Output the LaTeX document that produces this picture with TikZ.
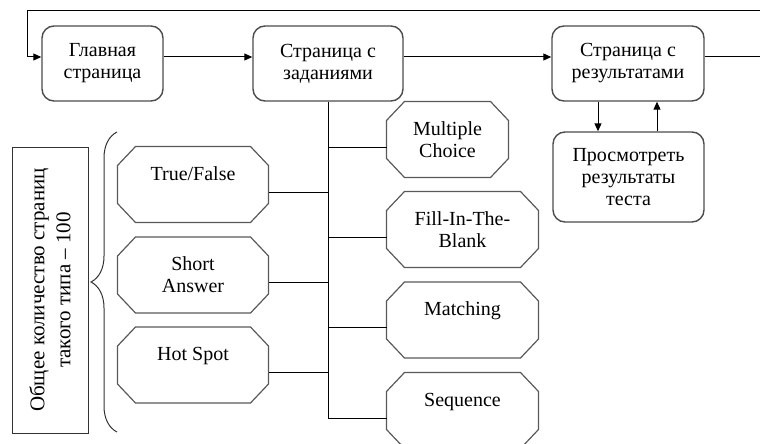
\documentclass[tikz,border=0pt]{standalone}
\usepackage{fontspec}
\setmainfont{Liberation Serif}
\newfontfamily\timesfont{Liberation Serif}
\usetikzlibrary{arrows.meta,decorations.pathreplacing}
\def\boxfont{\timesfont\fontsize{20}{22}\selectfont}

\begin{document}
\begin{tikzpicture}[x=1pt,y=-1pt,>={Triangle[length=8pt,width=7pt]},line width=1pt]
	\tikzstyle{page}=[draw=black!70,line width=1.4pt,rounded corners=12pt,align=center,font=\boxfont,inner sep=2pt,minimum height=75pt]
	\tikzstyle{task}=[rectangle,minimum height=75pt,align=center,font=\boxfont,inner sep=0pt]
	\tikzstyle{left task}=[task,minimum width=150pt]
	\tikzstyle{right task}=[task,minimum width=151pt]
	\tikzstyle{octagon}=[draw=black!65,line width=1.2pt]
	\useasboundingbox (0,0) rectangle (760,444);

	% Draw the page nodes
	\node[page,minimum width=121pt] (main) at (102.5,63.5) {Главная\\страница};
	\node[page,minimum width=150pt] (tasks) at (328,63.5) {Страница с\\заданиями};
	\node[page,minimum width=152pt] (results) at (628,63.5) {Страница с\\результатами};
	\node[page,minimum width=151pt,minimum height=90pt] (view) at (628.5,177) {Просмотреть\\результаты\\теста};

	% Draw the question type nodes
	\node[left task] (tf) at (193,184.5) {True/False\\\mbox{}};
	\node[left task] (sa) at (193,275) {Short\\Answer};
	\node[left task] (hs) at (193,365) {Hot Spot\\\mbox{}};
	\node[right task,minimum width=121pt] (mc) at (447.5,139.5) {Multiple\\Choice};
	\node[right task] (fb) at (462.5,229.5) {Fill-In-The-\\Blank};
	\node[right task] (mt) at (462.5,320) {Matching\\\mbox{}};
	\node[right task] (sq) at (462.5,410.5) {Sequence\\\mbox{}};

	% Cut the corners of every question type box
	\foreach \name in {tf,sa,hs,mc,fb,mt,sq}
	\draw[octagon] ([xshift=18pt]\name.north west) -- ([xshift=-18pt]\name.north east)
		-- ([yshift=-19pt]\name.north east) -- ([yshift=19pt]\name.south east)
		-- ([xshift=-18pt]\name.south east) -- ([xshift=18pt]\name.south west)
		-- ([yshift=19pt]\name.south west) -- ([yshift=-19pt]\name.north west) -- cycle;

	% Annotate the left group
	\node[draw=black!80,line width=1pt,rotate=90,minimum width=286pt,minimum height=76pt,align=center,font=\timesfont\fontsize{21}{26}\selectfont] (total) at (50,290) {Общее количество страниц\\такого типа – 100};
	\coordinate (brace-b) at (117,432);
	\coordinate (brace-t) at (117,132);
	\draw[black!80,line width=1pt,decorate,decoration={brace,amplitude=26pt}] (brace-b) -- (brace-t);

	% Connect the pages
	\coordinate (flow) at (0,57);
	\coordinate (loop-r) at (763,11);
	\coordinate (loop-l) at (27,11);
	\draw[->] (main.east |- flow) -- (tasks.west |- flow);
	\draw[->] (tasks.east |- flow) -- (results.west |- flow);
	\draw[->] (results.east |- flow) -| (loop-r) -- (loop-l) |- (main.west |- flow);
	\coordinate (down) at (598,0);
	\coordinate (up) at (657,0);
	\draw[->] (results.south -| down) -- (view.north -| down);
	\draw[->] (view.north -| up) -- (results.south -| up);

	% Connect every question type with the trunk
	\foreach \name in {tf,sa,hs}
	\coordinate (\name-p) at ([yshift=-7.5pt]\name.east);
	\foreach \name in {mc,fb,mt,sq}
	\coordinate (\name-p) at ([yshift=-7.5pt]\name.west);
	\draw (tasks.south) -- (tasks.south |- sq-p);
	\foreach \name in {tf,sa,hs}
	\draw (\name-p) -- (\name-p -| tasks.south);
	\foreach \name in {mc,fb,mt,sq}
	\draw (\name-p -| tasks.south) -- (\name-p);
\end{tikzpicture}
\end{document}
